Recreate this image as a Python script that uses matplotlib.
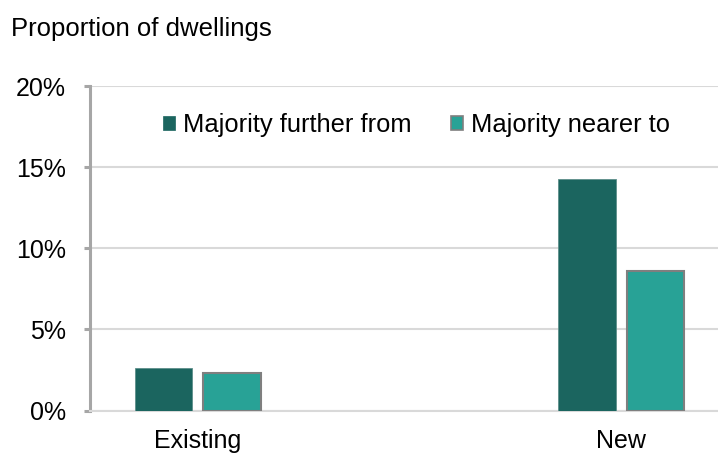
import matplotlib
matplotlib.use("Agg")
import matplotlib.pyplot as plt
from matplotlib.patches import Patch
import numpy as np

categories = ["Existing", "New"]
further_from = [2.6, 14.25]
nearer_to = [2.33, 8.58]
series_labels = ["Majority further from", "Majority nearer to"]
y_ticks = [0, 5, 10, 15, 20]
y_tick_labels = ["0%", "5%", "10%", "15%", "20%"]

dark_teal = "#1b655f"
light_teal = "#28a296"
grid_grey = "#d9d9d9"
spine_grey = "#a6a6a6"

plt.rcParams["font.family"] = ["Liberation Sans", "DejaVu Sans"]
plt.rcParams["font.size"] = 18

W, H = 718, 454
fig = plt.figure(figsize=(W / 100, H / 100), dpi=100)
ax = fig.add_axes([90 / W, (H - 410.5) / H, (W - 90) / W, (410.5 - 86) / H])

x = np.arange(len(categories))
bar_w = 0.135
offset = 0.0805
ax.bar(x - offset, further_from, width=bar_w, color=dark_teal,
       edgecolor="#5e8f8b", linewidth=0.6, zorder=3)
ax.bar(x + offset, nearer_to, width=bar_w, color=light_teal,
       edgecolor="#7f7f7f", linewidth=1.5, zorder=3)

ax.set_xlim(-0.2553, 1.2293)
ax.set_ylim(0, 20)
ax.set_yticks(y_ticks)
ax.set_yticklabels(y_tick_labels)
ax.set_xticks(x)
ax.set_xticklabels(categories)

ax.yaxis.grid(True, color=grid_grey, linewidth=1.5, zorder=0)
ax.set_axisbelow(True)
for side in ("top", "right"):
    ax.spines[side].set_visible(False)
ax.spines["left"].set_color(spine_grey)
ax.spines["left"].set_linewidth(2.2)
ax.spines["bottom"].set_color(grid_grey)
ax.spines["bottom"].set_linewidth(1.5)

ax.tick_params(axis="y", length=4.5, width=2.2, color=spine_grey, pad=13,
               labelcolor="black")
ax.tick_params(axis="x", length=0, pad=13, labelcolor="black")

handles = [Patch(facecolor=dark_teal, edgecolor=dark_teal, linewidth=0.5),
           Patch(facecolor=light_teal, edgecolor="#7f7f7f", linewidth=1.2)]
fig.legend(handles, series_labels, loc="center left",
           bbox_to_anchor=(163 / W, (H - 125) / H), ncol=2, frameon=False,
           prop={"size": 18.4},
           handlelength=0.47, handleheight=0.47, handletextpad=0.31,
           columnspacing=1.56, borderpad=0, borderaxespad=0)

fig.text(11 / W, (H - 36) / H, "Proportion of dwellings", ha="left",
         va="baseline", color="black", fontsize=18.5)

fig.savefig("out.png", dpi=100)
